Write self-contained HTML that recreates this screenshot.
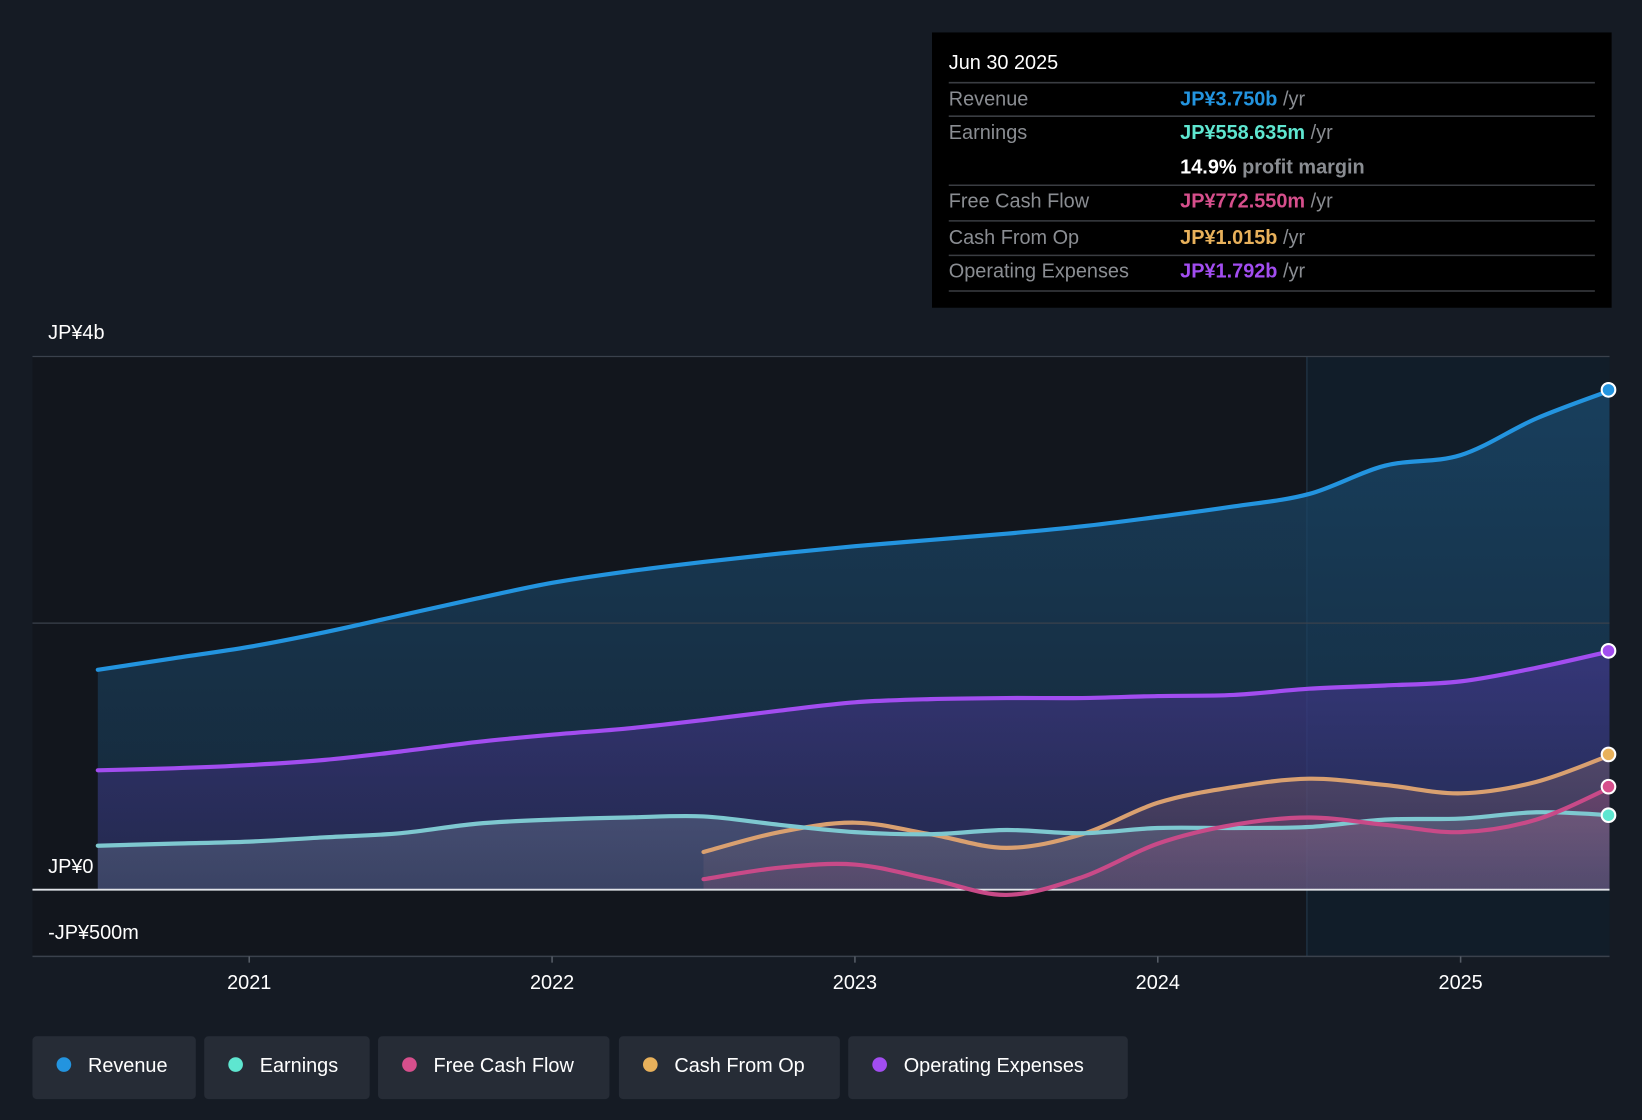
<!DOCTYPE html>
<html><head><meta charset="utf-8"><style>
html,body{margin:0;padding:0;background:#151b24;}
svg{display:block;font-family:"Liberation Sans","Noto Sans CJK JP",sans-serif;}
</style></head><body>
<svg id="chart" width="1642" height="1120" viewBox="0 0 1568 1070" preserveAspectRatio="none" xmlns="http://www.w3.org/2000/svg">
<defs>
<linearGradient id="gRev" x1="0" y1="0" x2="0" y2="1"><stop offset="0" stop-color="#1a4a6e" stop-opacity="0.75"/><stop offset="1" stop-color="#1a3a55" stop-opacity="0.5"/></linearGradient>
<linearGradient id="gOpx" x1="0" y1="0" x2="0" y2="1"><stop offset="0" stop-color="#5b3ab0" stop-opacity="0.45"/><stop offset="1" stop-color="#3a2a70" stop-opacity="0.35"/></linearGradient>
<linearGradient id="gEarn" x1="0" y1="0" x2="0" y2="1"><stop offset="0" stop-color="#7a8aa0" stop-opacity="0.35"/><stop offset="1" stop-color="#8090a8" stop-opacity="0.25"/></linearGradient>
<linearGradient id="gCfo" x1="0" y1="0" x2="0" y2="1"><stop offset="0" stop-color="#c08a70" stop-opacity="0.25"/><stop offset="1" stop-color="#906070" stop-opacity="0.15"/></linearGradient>
<linearGradient id="gFcf" x1="0" y1="0" x2="0" y2="1"><stop offset="0" stop-color="#c04a80" stop-opacity="0.25"/><stop offset="1" stop-color="#a04a80" stop-opacity="0.12"/></linearGradient>
<clipPath id="plotClip"><rect x="31" y="300" width="1506" height="620"/></clipPath>
</defs>
<rect x="0" y="0" width="1568" height="1070" fill="#151b24"/>
<rect x="31" y="341" width="1217" height="573" fill="#12161d"/>
<rect x="1248" y="341" width="289" height="573" fill="#111d29"/>
<line x1="1248" y1="341" x2="1248" y2="914" stroke="#1e3040" stroke-width="1.5"/>
<g id="areas" clip-path="url(#plotClip)"></g>
<g id="grid"></g>
<g id="lines" clip-path="url(#plotClip)"></g>
<g id="markers"></g>
<g id="xaxis"></g>

<g>
<rect x="890" y="31" width="649" height="263" fill="#000"/>
<text x="906" y="66" fill="#fff" font-size="19">Jun 30 2025</text>
<g stroke="#3a3d42" stroke-width="1.5">
<line x1="906" y1="79" x2="1523" y2="79"/><line x1="906" y1="111" x2="1523" y2="111"/><line x1="906" y1="177" x2="1523" y2="177"/><line x1="906" y1="211" x2="1523" y2="211"/><line x1="906" y1="244" x2="1523" y2="244"/><line x1="906" y1="278" x2="1523" y2="278"/>
</g>
<g font-size="19" fill="#8a8d92">
<text x="906" y="101">Revenue</text><text x="906" y="133">Earnings</text><text x="906" y="198">Free Cash Flow</text><text x="906" y="233">Cash From Op</text><text x="906" y="265">Operating Expenses</text>
</g>
<g font-size="19" font-weight="bold">
<text x="1127" y="101"><tspan fill="#2394df">JP¥3.750b</tspan><tspan fill="#8a8d92" font-weight="normal"> /yr</tspan></text>
<text x="1127" y="133"><tspan fill="#5ee6d0">JP¥558.635m</tspan><tspan fill="#8a8d92" font-weight="normal"> /yr</tspan></text>
<text x="1127" y="166"><tspan fill="#fff">14.9%</tspan><tspan fill="#8a8d92"> profit margin</tspan></text>
<text x="1127" y="198"><tspan fill="#d64f8c">JP¥772.550m</tspan><tspan fill="#8a8d92" font-weight="normal"> /yr</tspan></text>
<text x="1127" y="233"><tspan fill="#e8b15b">JP¥1.015b</tspan><tspan fill="#8a8d92" font-weight="normal"> /yr</tspan></text>
<text x="1127" y="265"><tspan fill="#a24df0">JP¥1.792b</tspan><tspan fill="#8a8d92" font-weight="normal"> /yr</tspan></text>
</g>
</g>

<g font-size="19" fill="#fff">
<text x="46" y="324">JP¥4b</text>
<text x="46" y="834">JP¥0</text>
<text x="46" y="897">-JP¥500m</text>
</g>

<g font-size="19" fill="#fff">
<g><rect x="31" y="990" width="156" height="60" rx="4" fill="#262c36"/><circle cx="61" cy="1017" r="7" fill="#2394df"/><text x="84" y="1024">Revenue</text></g>
<g><rect x="195" y="990" width="158" height="60" rx="4" fill="#262c36"/><circle cx="225" cy="1017" r="7" fill="#5ee6d0"/><text x="248" y="1024">Earnings</text></g>
<g><rect x="361" y="990" width="221" height="60" rx="4" fill="#262c36"/><circle cx="391" cy="1017" r="7" fill="#d64f8c"/><text x="414" y="1024">Free Cash Flow</text></g>
<g><rect x="591" y="990" width="211" height="60" rx="4" fill="#262c36"/><circle cx="621" cy="1017" r="7" fill="#e8b15b"/><text x="644" y="1024">Cash From Op</text></g>
<g><rect x="810" y="990" width="267" height="60" rx="4" fill="#262c36"/><circle cx="840" cy="1017" r="7" fill="#a24df0"/><text x="863" y="1024">Operating Expenses</text></g>
</g>
</svg>
<script>
const tFull = [2020.5,2020.75,2021,2021.25,2021.5,2021.75,2022,2022.25,2022.5,2022.75,2023,2023.25,2023.5,2023.75,2024,2024.25,2024.5,2024.75,2025,2025.25,2025.5];
const tCash = [2022.5,2022.75,2023,2023.25,2023.5,2023.75,2024,2024.25,2024.5,2024.75,2025,2025.25,2025.5];
const revenue = [1650,1736,1822,1932,2058,2184,2302,2388,2459,2522,2577,2624,2671,2726,2797,2875,2969,3181,3260,3535,3750];
const opex = [896,911,935,974,1037,1108,1163,1210,1273,1343,1406,1430,1438,1438,1453,1461,1508,1532,1563,1665,1792];
const earnings = [330,346,361,393,424,495,526,542,550,487,432,416,448,424,463,463,471,526,534,581,559];
const cfo = [283,432,503,416,314,416,652,770,833,786,723,809,1015];
const fcf = [79,165,189,79,-39,94,346,487,542,487,432,526,773];
const yTicks = [4000,2000,0];
const xTicks = [2021,2022,2023,2024,2025];

const NS="http://www.w3.org/2000/svg";
function xs(t){return 238 + (t-2021)*289.2;}
function ys(v){return 850 - v*0.12735;}
function mk(tag,attrs,parent){const e=document.createElementNS(NS,tag);for(const k in attrs)e.setAttribute(k,attrs[k]);parent.appendChild(e);return e;}
function pathD(ts,vs){
  const p=ts.map((t,i)=>[xs(t),ys(vs[i])]);
  let d="M"+p[0][0]+","+p[0][1];
  for(let i=0;i<p.length-1;i++){
    const p0=p[i-1]||p[i],p1=p[i],p2=p[i+1],p3=p[i+2]||p[i+1];
    const c1x=p1[0]+(p2[0]-p0[0])/6,c1y=p1[1]+(p2[1]-p0[1])/6;
    const c2x=p2[0]-(p3[0]-p1[0])/6,c2y=p2[1]-(p3[1]-p1[1])/6;
    d+=" C"+c1x+","+c1y+" "+c2x+","+c2y+" "+p2[0]+","+p2[1];
  }
  return d;
}
const areas=document.getElementById('areas'),lines=document.getElementById('lines'),grid=document.getElementById('grid'),xaxis=document.getElementById('xaxis'),markers=document.getElementById('markers');
yTicks.forEach(v=>{
  const l=mk('line',{x1:31,x2:1537,y1:ys(v),y2:ys(v),stroke:v===0?'#e0e3e8':'#3a414c','stroke-width':v===0?1.8:1.2},grid);
  
  
});
const ax=mk('line',{x1:31,x2:1537,y1:ys(-500),y2:ys(-500),stroke:'#3a414c','stroke-width':1.5},xaxis);


xTicks.forEach(t=>{
  mk('line',{x1:xs(t),x2:xs(t),y1:ys(-500),y2:ys(-500)+6,stroke:'#555c66','stroke-width':1.5},xaxis);
  const tx=mk('text',{x:xs(t),y:945,fill:'#fff','font-size':19,'text-anchor':'middle'},xaxis);
  tx.textContent=String(t);
  
  
});
const series=[
  {n:'revenue',t:tFull,v:revenue,c:'#2394df',f:'url(#gRev)'},
  {n:'operating-expenses',t:tFull,v:opex,c:'#a24df0',f:'url(#gOpx)'},
  {n:'cash-from-op',t:tCash,v:cfo,c:'#d9a070',f:'url(#gCfo)'},
  {n:'earnings',t:tFull,v:earnings,c:'#7ec8d0',f:'url(#gEarn)'},
  {n:'free-cash-flow',t:tCash,v:fcf,c:'#c84a88',f:'url(#gFcf)'}
];
const dotCol={'revenue':'#2394df','operating-expenses':'#a24df0','cash-from-op':'#e8b15b','earnings':'#5ee6d0','free-cash-flow':'#d64f8c'};
series.forEach(s=>{
  const d=pathD(s.t,s.v);
  const a=mk('path',{d:d+" L"+xs(s.t[s.t.length-1])+","+ys(0)+" L"+xs(s.t[0])+","+ys(0)+" Z",fill:s.f},areas);
  
  
});
series.forEach(s=>{
  const l=mk('path',{d:pathD(s.t,s.v),fill:'none',stroke:s.c,'stroke-width':4,'stroke-linecap':'round'},lines);
  
  
});
series.forEach(s=>{
  const i=s.t.length-1;
  const c=mk('circle',{cx:Math.min(xs(s.t[i]),1536),cy:ys(s.v[i]),r:6.5,fill:dotCol[s.n],stroke:'#fff','stroke-width':2},markers);
  
  
});
</script>
</body></html>
